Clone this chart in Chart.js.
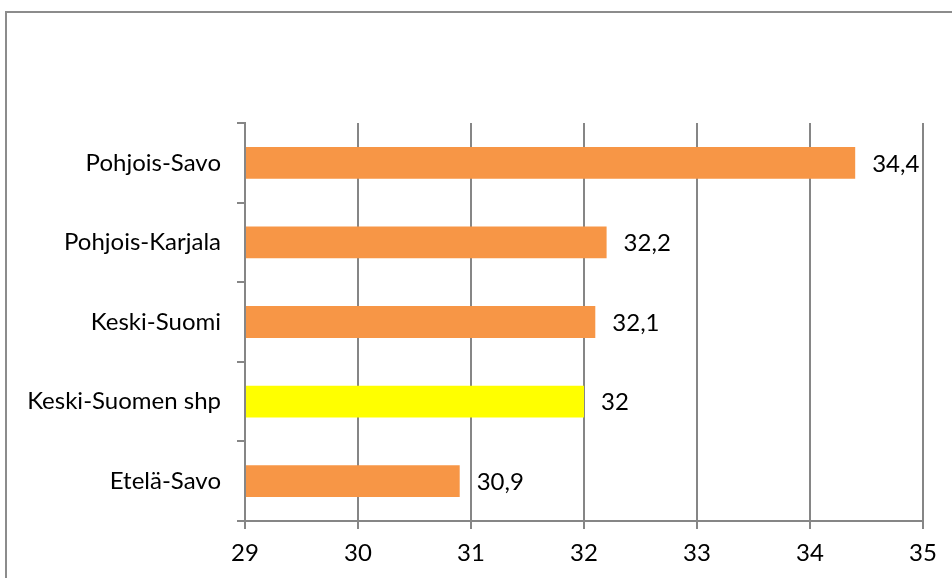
<!DOCTYPE html>
<html>
<head>
<meta charset="utf-8">
<script src="https://cdn.jsdelivr.net/npm/chart.js@4.4.1/dist/chart.umd.min.js"></script>
<style>
  html, body { margin: 0; padding: 0; background: #fff; }
  #wrap { width: 952px; height: 578px; position: relative; }
</style>
</head>
<body>
<div id="wrap"><canvas id="chart" width="952" height="578"></canvas></div>
<script>
// ===== data =====
const regions = ['Pohjois-Savo', 'Pohjois-Karjala', 'Keski-Suomi', 'Keski-Suomen shp', 'Etelä-Savo'];
const values = [34.4, 32.2, 32.1, 32, 30.9];
const barColors = ['#F79646', '#F79646', '#F79646', '#FFFF00', '#F79646'];
const xMin = 29;
const xMax = 35;

const FONT = 'Lato, "Open Sans", sans-serif';

// outer frame of the chart
const framePlugin = {
    id: 'frame',
    beforeDraw(chart) {
        const ctx = chart.ctx;
        ctx.save();
        ctx.strokeStyle = '#8c8c8c';
        ctx.lineWidth = 2;
        ctx.strokeRect(6, 12, chart.width + 10, chart.height + 10);
        ctx.restore();
    }
};

// value labels at the end of each bar
const valueLabels = {
    id: 'valueLabels',
    afterDatasetsDraw(chart) {
        const ctx = chart.ctx;
        const meta = chart.getDatasetMeta(0);
        ctx.save();
        ctx.font = '24px ' + FONT;
        ctx.fillStyle = '#000';
        ctx.textAlign = 'left';
        ctx.textBaseline = 'middle';
        meta.data.forEach((bar, i) => {
            const txt = String(values[i]).replace('.', ',');
            ctx.fillText(txt, bar.x + 17, bar.y + 1);
        });
        ctx.restore();
    }
};

new Chart(document.getElementById('chart').getContext('2d'), {
    type: 'bar',
    data: {
        labels: regions,
        datasets: [{
            data: values,
            base: xMin,
            backgroundColor: barColors,
            borderWidth: 0,
            categoryPercentage: 1,
            barPercentage: 0.4
        }]
    },
    options: {
        indexAxis: 'y',
        responsive: false,
        animation: false,
        layout: { padding: { top: 123, right: 29, left: 0, bottom: 0 } },
        plugins: {
            legend: { display: false },
            tooltip: { enabled: false }
        },
        scales: {
            x: {
                min: xMin,
                max: xMax,
                ticks: {
                    stepSize: 1,
                    color: '#000',
                    font: { family: FONT, size: 24 },
                    padding: 10
                },
                grid: {
                    color: '#868686',
                    lineWidth: 2,
                    drawTicks: true,
                    tickLength: 8
                },
                border: { color: '#868686', width: 2 },
                afterFit(scale) { scale.height = 57; }
            },
            y: {
                ticks: {
                    color: '#000',
                    font: { family: FONT, size: 24 },
                    padding: 16
                },
                grid: {
                    display: true,
                    drawOnChartArea: false,
                    color: '#868686',
                    lineWidth: 2,
                    tickLength: 8,
                    offset: true
                },
                border: { color: '#868686', width: 2 },
                afterFit(scale) { scale.width = 245; }
            }
        }
    },
    plugins: [framePlugin, valueLabels]
});
</script>
</body>
</html>
